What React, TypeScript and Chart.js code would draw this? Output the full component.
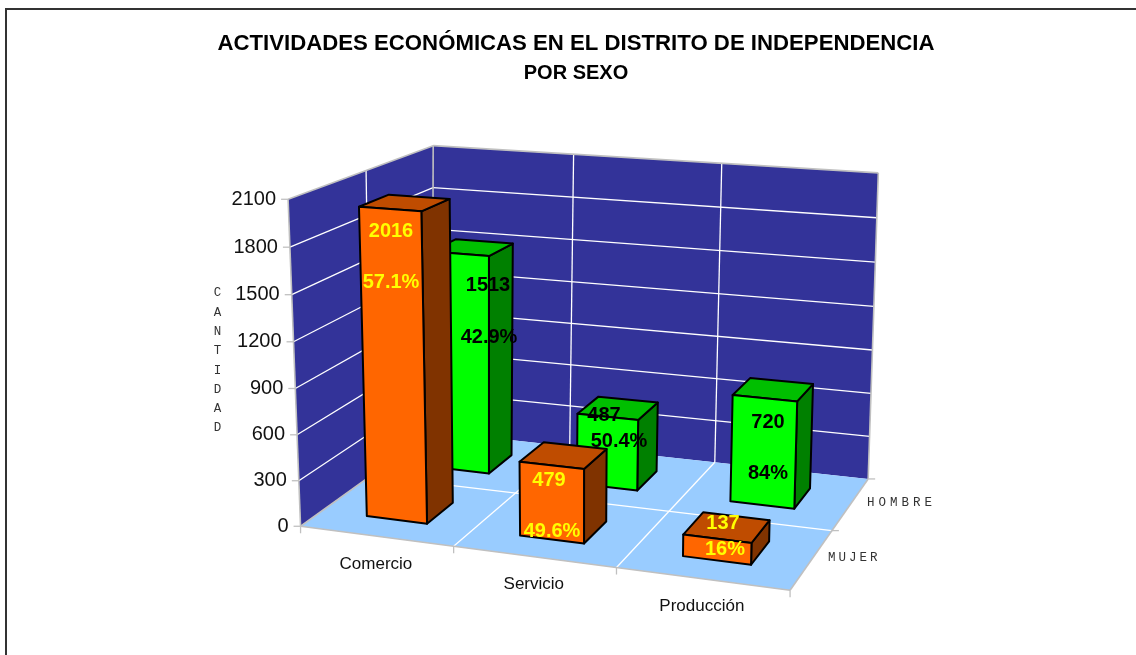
import React, { useEffect, useRef } from "react";
import { Chart, BarController, registerables } from "chart.js";

const categories = ["Comercio", "Servicio", "Producción"];
const depthLabels = ["MUJER", "HOMBRE"];
const mujer = [2016, 479, 137];
const hombre = [1513, 487, 720];
const pctMujer = ["57.1%", "49.6%", "16%"];
const pctHombre = ["42.9%", "50.4%", "84%"];
const axisTitle = "CANTIDAD";
const titleMain = "ACTIVIDADES ECONÓMICAS EN EL DISTRITO DE INDEPENDENCIA";
const titleSub = "POR SEXO";

// plane calibration: [category position, depth position, screen x, screen y]
const FLOOR_PLANE: number[][] = [
  [0, 0, 300.7, 525], [1, 0, 454, 545.7], [2, 0, 616, 568], [3, 0, 790, 592],
  [3, 1, 832, 530], [3, 2, 867, 478], [2, 2, 716.7, 462], [0, 2, 431.5, 433],
];
const CEILING_PLANE: number[][] = [
  [0, 0, 288.3, 197.5], [0, 1, 365.7, 171.7], [0, 2, 433, 146],
  [1, 2, 574, 154.5], [2, 2, 722, 163], [3, 2, 878, 172], [3, 0, 798, 238],
];
const HEIGHT_BEND = 1.03;

function solvePlane(pts: number[][]) {
  const n = 8;
  const A = Array.from({ length: n }, () => new Array(n + 1).fill(0));
  const add = (r: number[], b: number) => {
    for (let i = 0; i < n; i++) {
      for (let j = 0; j < n; j++) A[i][j] += r[i] * r[j];
      A[i][n] += r[i] * b;
    }
  };
  for (const [u, v, x, y] of pts) {
    add([u, v, 1, 0, 0, 0, -x * u, -x * v], x);
    add([0, 0, 0, u, v, 1, -y * u, -y * v], y);
  }
  for (let c = 0; c < n; c++) {
    let p = c;
    for (let r = c + 1; r < n; r++) if (Math.abs(A[r][c]) > Math.abs(A[p][c])) p = r;
    [A[c], A[p]] = [A[p], A[c]];
    for (let r = 0; r < n; r++) {
      if (r === c) continue;
      const f = A[r][c] / A[c][c];
      for (let k = c; k <= n; k++) A[r][k] -= f * A[c][k];
    }
  }
  return A.map((row, i) => row[n] / row[i]);
}
const F = solvePlane(FLOOR_PLANE);
const C = solvePlane(CEILING_PLANE);
const onPlane = (m: number[], u: number, v: number): [number, number] => {
  const w = m[6] * u + m[7] * v + 1;
  return [(m[0] * u + m[1] * v + m[2]) / w, (m[3] * u + m[4] * v + m[5]) / w];
};
const project = (u: number, v: number, h: number): [number, number] => {
  const a = onPlane(F, u, v);
  const b = onPlane(C, u, v);
  const t = h <= 0 ? 0 : h >= 1 ? 1 : h / (h + HEIGHT_BEND * (1 - h));
  return [a[0] + (b[0] - a[0]) * t, a[1] + (b[1] - a[1]) * t];
};

const BAR_DEPTH = 0.4;
const WALL = "#333399";
const FLOOR = "#99CCFF";
const EDGE = "#C0C0C0";
const MONO = '"Liberation Mono", monospace';
const SANS = '"Liberation Sans", Arial, sans-serif';

const toU = (chart: any, px: number) => ((px - chart.chartArea.left) / chart.chartArea.width) * categories.length;
const toH = (chart: any, px: number) => (chart.chartArea.bottom - px) / chart.chartArea.height;

function poly(ctx: CanvasRenderingContext2D, pts: [number, number][], fill?: string, stroke?: string, lw = 1) {
  ctx.beginPath();
  pts.forEach((p, i) => (i ? ctx.lineTo(p[0], p[1]) : ctx.moveTo(p[0], p[1])));
  ctx.closePath();
  if (fill) { ctx.fillStyle = fill; ctx.fill(); }
  if (stroke) { ctx.strokeStyle = stroke; ctx.lineWidth = lw; ctx.lineJoin = "round"; ctx.stroke(); }
}
function seg(ctx: CanvasRenderingContext2D, a: [number, number], b: [number, number], color: string, lw = 1) {
  ctx.beginPath();
  ctx.moveTo(a[0], a[1]);
  ctx.lineTo(b[0], b[1]);
  ctx.strokeStyle = color;
  ctx.lineWidth = lw;
  ctx.stroke();
}

class Bar3DController extends BarController {
  static id = "bar3d";
  static defaults = BarController.defaults;
  static overrides = BarController.overrides;
  draw() {
    const chart: any = this.chart;
    const ctx = chart.ctx as CanvasRenderingContext2D;
    const ds: any = this.getDataset();
    const meta: any = this.getMeta();
    const row = ds.depthRow as number;
    const v0 = row + (1 - BAR_DEPTH) / 2;
    const v1 = v0 + BAR_DEPTH;
    ctx.save();
    meta.data.forEach((bar: any) => {
      const u0 = toU(chart, bar.x - bar.width / 2);
      const u1 = toU(chart, bar.x + bar.width / 2);
      const h = toH(chart, bar.y);
      const front: [number, number][] = [project(u0, v0, 0), project(u1, v0, 0), project(u1, v0, h), project(u0, v0, h)];
      const side: [number, number][] = [project(u1, v0, 0), project(u1, v1, 0), project(u1, v1, h), project(u1, v0, h)];
      const top: [number, number][] = [project(u0, v0, h), project(u1, v0, h), project(u1, v1, h), project(u0, v1, h)];
      poly(ctx, side, ds.sideColor, "#000", 2);
      poly(ctx, top, ds.topColor, "#000", 2);
      poly(ctx, front, ds.backgroundColor, "#000", 2);
    });
    ctx.restore();
  }
}

const sceneryPlugin = {
  id: "scenery",
  beforeDatasetsDraw(chart: any) {
    const ctx = chart.ctx as CanvasRenderingContext2D;
    const yScale = chart.scales.y;
    const nU = categories.length;
    const nV = depthLabels.length;
    ctx.save();
    // outer frame: left and top only, the picture is cut off on the other sides
    ctx.strokeStyle = "#333";
    ctx.lineWidth = 2;
    ctx.beginPath();
    ctx.moveTo(6, 655);
    ctx.lineTo(6, 9);
    ctx.lineTo(1136, 9);
    ctx.stroke();
    // walls and floor
    poly(ctx, [project(0, 0, 0), project(0, nV, 0), project(0, nV, 1), project(0, 0, 1)], WALL);
    poly(ctx, [project(0, nV, 0), project(nU, nV, 0), project(nU, nV, 1), project(0, nV, 1)], WALL);
    poly(ctx, [project(0, 0, 0), project(nU, 0, 0), project(nU, nV, 0), project(0, nV, 0)], FLOOR);
    // value gridlines and labels
    ctx.font = `20px ${SANS}`;
    ctx.textAlign = "right";
    ctx.textBaseline = "middle";
    yScale.ticks.forEach((t: any) => {
      const h = toH(chart, yScale.getPixelForValue(t.value));
      const a = project(0, 0, h);
      if (h > 0 && h < 1) {
        seg(ctx, a, project(0, nV, h), "#fff", 1.3);
        seg(ctx, project(0, nV, h), project(nU, nV, h), "#fff", 1.3);
      }
      seg(ctx, [a[0] - 7, a[1]], a, EDGE, 1.3);
      ctx.fillStyle = "#111";
      ctx.fillText(String(t.value), a[0] - 12, a[1]);
    });
    // category boundaries
    for (let u = 1; u < nU; u++) {
      seg(ctx, project(u, 0, 0), project(u, nV, 0), "#fff", 1.3);
      seg(ctx, project(u, nV, 0), project(u, nV, 1), "#fff", 1.3);
    }
    // depth boundaries
    for (let v = 1; v < nV; v++) {
      seg(ctx, project(0, v, 0), project(nU, v, 0), "#fff", 1.3);
      seg(ctx, project(0, v, 0), project(0, v, 1), "#fff", 1.3);
    }
    // wall outline edges
    const e = (a: [number, number], b: [number, number]) => seg(ctx, a, b, EDGE, 1.6);
    e(project(0, 0, 0), project(0, 0, 1));
    e(project(0, 0, 1), project(0, nV, 1));
    e(project(0, nV, 1), project(nU, nV, 1));
    e(project(nU, nV, 1), project(nU, nV, 0));
    e(project(0, nV, 0), project(0, nV, 1));
    e(project(0, 0, 0), project(nU, 0, 0));
    e(project(nU, 0, 0), project(nU, nV, 0));
    e(project(0, 0, 0), project(0, nV, 0));
    // floor ticks
    for (let u = 0; u <= nU; u++) {
      const p = project(u, 0, 0);
      seg(ctx, p, [p[0], p[1] + 7], EDGE, 1.3);
    }
    for (let v = 1; v <= nV; v++) {
      const p = project(nU, v, 0);
      seg(ctx, p, [p[0] + 7, p[1]], EDGE, 1.3);
    }
    // category labels
    ctx.fillStyle = "#111";
    ctx.font = `17px ${SANS}`;
    ctx.textAlign = "center";
    chart.scales.x.getLabels().forEach((label: string, i: number) => {
      const u = toU(chart, chart.scales.x.getPixelForValue(i));
      const p = project(u, 0, 0);
      ctx.fillText(label, p[0], p[1] + 28);
    });
    // depth labels
    ctx.font = `12.5px ${MONO}`;
    ctx.textAlign = "left";
    (ctx as any).letterSpacing = "4px";
    ctx.fillStyle = "#333";
    ctx.fillText(depthLabels[1], 867, 503);
    (ctx as any).letterSpacing = "3px";
    ctx.fillText(depthLabels[0], 828, 558);
    (ctx as any).letterSpacing = "0px";
    // vertical axis title
    ctx.textAlign = "center";
    axisTitle.split("").forEach((ch, i) => {
      ctx.fillText(ch, 217.5, 293 + i * 19.3);
    });
    ctx.restore();
  },
};

const LABEL_AT: Record<string, [number, number]> = {
  "2016": [391, 231], "57.1%": [391, 282], "1513": [488, 285], "42.9%": [489, 337],
  "487": [604, 415], "50.4%": [619, 441], "720": [768, 422], "84%": [768, 473],
  "479": [549, 480], "49.6%": [552, 531], "137": [723, 523], "16%": [725, 549],
};

const labelPlugin = {
  id: "barLabels",
  afterDatasetsDraw(chart: any) {
    const ctx = chart.ctx as CanvasRenderingContext2D;
    ctx.save();
    ctx.font = `bold 20px ${SANS}`;
    ctx.textAlign = "center";
    ctx.textBaseline = "middle";
    chart.data.datasets.forEach((ds: any) => {
      ctx.fillStyle = ds.labelColor;
      ds.data.forEach((val: number, i: number) => {
        for (const text of [String(val), ds.pct[i]]) {
          const at = LABEL_AT[text];
          ctx.fillText(text, at[0], at[1]);
        }
      });
    });
    ctx.restore();
  },
};

Chart.register(...registerables, Bar3DController);

export default function App() {
  const ref = useRef<HTMLCanvasElement>(null);
  useEffect(() => {
    document.body.style.margin = "0";
    document.body.style.background = "#fff";
    const chart = new Chart(ref.current!, {
      type: "bar3d" as any,
      data: {
        labels: categories,
        datasets: [
          { label: depthLabels[0], data: mujer, pct: pctMujer, depthRow: 0, backgroundColor: "#FF6600", topColor: "#BF4C00", sideColor: "#803300", labelColor: "#FFFF00", clip: false, grouped: false, categoryPercentage: 1, barPercentage: BAR_DEPTH } as any,
          { label: depthLabels[1], data: hombre, pct: pctHombre, depthRow: 1, backgroundColor: "#00FF00", topColor: "#00BF00", sideColor: "#008000", labelColor: "#000", clip: false, grouped: false, categoryPercentage: 1, barPercentage: BAR_DEPTH } as any,
        ],
      },
      options: {
        animation: false,
        responsive: false,
        layout: { padding: { top: 31, left: 40, right: 24, bottom: 130 } },
        plugins: {
          legend: { display: false },
          tooltip: { enabled: false },
          title: {
            display: true,
            text: titleMain,
            color: "#000",
            font: { family: SANS, size: 22.2, weight: "bold", lineHeight: 1.2 },
            padding: { top: 0, bottom: 0 },
            fullSize: true,
          },
          subtitle: {
            display: true,
            text: titleSub,
            color: "#000",
            font: { family: SANS, size: 20, weight: "bold", lineHeight: 1.45 },
            padding: { top: 1, bottom: 110 },
            fullSize: true,
          },
        },
        scales: {
          x: { type: "category", display: false, offset: true },
          y: { type: "linear", display: false, min: 0, max: 2100, ticks: { stepSize: 300 } },
        },
      } as any,
      plugins: [sceneryPlugin, labelPlugin],
    } as any);
    return () => chart.destroy();
  }, []);
  return <canvas ref={ref} width={1136} height={655} style={{ display: "block", position: "absolute", left: 0, top: 0 }} />;
}
